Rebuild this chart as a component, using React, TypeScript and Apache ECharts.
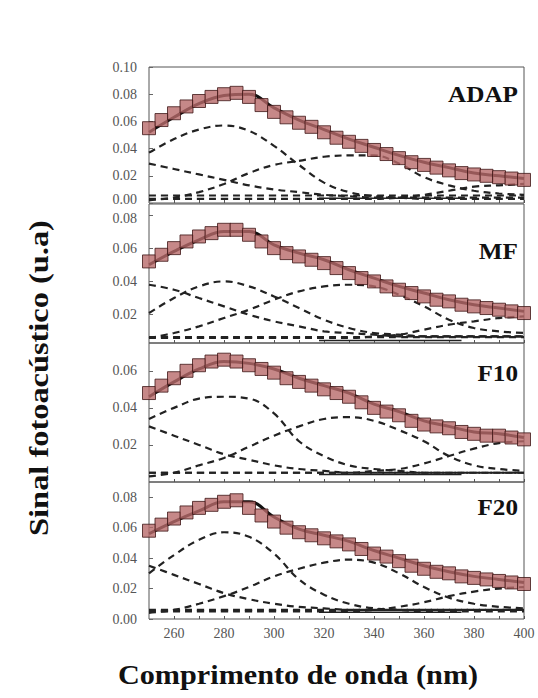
import React, { useEffect, useRef } from "react";
import * as echarts from "echarts";

// Wavelength grids (nm)
const wl5: number[] = [250,255,260,265,270,275,280,285,290,295,300,305,310,315,320,325,330,335,340,345,350,355,360,365,370,375,380,385,390,395,400];
const wl10: number[] = [250,260,270,280,290,300,310,320,330,340,350,360,370,380,390,400];
const xTickLabels: number[] = [260,280,300,320,340,360,380,400];
const xTickMarks: number[] = [260,270,280,290,300,310,320,330,340,350,360,370,380,390,400];

const panelNames: string[] = ["ADAP", "MF", "F10", "F20"];

// Measured photoacoustic signal (5 nm steps)
const adapData: number[] = [0.055,0.061,0.066,0.071,0.075,0.078,0.080,0.081,0.078,0.072,0.067,0.063,0.059,0.056,0.052,0.048,0.045,0.042,0.039,0.036,0.033,0.030,0.028,0.026,0.024,0.022,0.021,0.020,0.019,0.018,0.017];
const mfData: number[] = [0.052,0.056,0.060,0.064,0.067,0.069,0.071,0.071,0.068,0.064,0.060,0.057,0.055,0.053,0.051,0.048,0.045,0.042,0.040,0.037,0.035,0.033,0.031,0.029,0.028,0.026,0.025,0.024,0.023,0.022,0.021];
const f10Data: number[] = [0.048,0.052,0.056,0.060,0.063,0.065,0.066,0.065,0.063,0.061,0.059,0.056,0.054,0.052,0.050,0.048,0.046,0.043,0.040,0.038,0.036,0.033,0.031,0.030,0.029,0.027,0.026,0.025,0.025,0.024,0.023];
const f20Data: number[] = [0.058,0.062,0.066,0.070,0.073,0.075,0.077,0.078,0.073,0.068,0.064,0.060,0.057,0.055,0.053,0.051,0.049,0.046,0.043,0.041,0.038,0.035,0.033,0.031,0.030,0.028,0.027,0.026,0.025,0.024,0.023];

// Fitted envelope (10 nm steps)
const adapFit: number[] = [0.052,0.063,0.073,0.079,0.080,0.070,0.061,0.054,0.047,0.041,0.035,0.030,0.026,0.022,0.020,0.018];
const mfFit: number[] = [0.050,0.058,0.065,0.070,0.070,0.062,0.057,0.053,0.047,0.042,0.037,0.033,0.029,0.026,0.024,0.022];
const f10Fit: number[] = [0.046,0.054,0.061,0.065,0.064,0.061,0.056,0.052,0.048,0.042,0.038,0.033,0.030,0.027,0.026,0.024];
const f20Fit: number[] = [0.056,0.064,0.071,0.077,0.077,0.067,0.059,0.055,0.051,0.045,0.040,0.035,0.031,0.028,0.026,0.024];

// Gaussian bands of the fit (10 nm steps)
const adapBandA: number[] = [0.037,0.047,0.054,0.057,0.053,0.042,0.028,0.015,0.008,0.005,0.004,0.003,0.003,0.003,0.003,0.003];
const adapBandB: number[] = [0.029,0.025,0.021,0.017,0.013,0.010,0.008,0.006,0.005,0.004,0.004,0.004,0.004,0.004,0.004,0.004];
const adapBandC: number[] = [0.002,0.004,0.008,0.014,0.022,0.028,0.031,0.034,0.035,0.035,0.029,0.019,0.013,0.009,0.007,0.006];
const adapBandD: number[] = [0.003,0.003,0.003,0.003,0.003,0.003,0.003,0.003,0.003,0.003,0.004,0.006,0.009,0.012,0.013,0.014];
const adapBase: number[] = [0.0055,0.0055,0.0055,0.0055,0.0055,0.0055,0.0055,0.0055,0.0055,0.0055,0.0055,0.0055,0.0055,0.0055,0.0055,0.0055];

const mfBandA: number[] = [0.021,0.030,0.037,0.040,0.037,0.031,0.024,0.017,0.012,0.009,0.008,0.007,0.007,0.007,0.007,0.007];
const mfBandB: number[] = [0.038,0.035,0.030,0.025,0.020,0.016,0.013,0.010,0.009,0.008,0.007,0.007,0.007,0.007,0.007,0.007];
const mfBandC: number[] = [0.006,0.009,0.013,0.018,0.023,0.029,0.034,0.037,0.038,0.037,0.032,0.025,0.017,0.012,0.010,0.009];
const mfBandD: number[] = [0.006,0.006,0.006,0.006,0.006,0.006,0.006,0.006,0.006,0.007,0.008,0.011,0.014,0.016,0.018,0.019];
const mfBase: number[] = [0.0065,0.0065,0.0065,0.0065,0.0065,0.0065,0.0065,0.0065,0.0065,0.0065,0.0065,0.0065,0.0065,0.0065,0.0065,0.0065];

const f10BandA: number[] = [0.034,0.040,0.045,0.046,0.045,0.037,0.022,0.014,0.009,0.007,0.006,0.005,0.005,0.005,0.005,0.005];
const f10BandB: number[] = [0.030,0.025,0.020,0.015,0.012,0.009,0.007,0.006,0.005,0.005,0.005,0.005,0.005,0.005,0.005,0.005];
const f10BandC: number[] = [0.003,0.005,0.009,0.013,0.019,0.025,0.030,0.034,0.035,0.033,0.028,0.022,0.014,0.009,0.007,0.006];
const f10BandD: number[] = [0.005,0.005,0.005,0.005,0.005,0.005,0.005,0.005,0.005,0.006,0.007,0.010,0.014,0.018,0.021,0.022];
const f10Base: number[] = [0.005,0.005,0.005,0.005,0.005,0.005,0.005,0.005,0.005,0.005,0.005,0.005,0.005,0.005,0.005,0.005];

const f20BandA: number[] = [0.030,0.042,0.052,0.057,0.054,0.043,0.026,0.016,0.010,0.007,0.006,0.005,0.005,0.005,0.005,0.005];
const f20BandB: number[] = [0.035,0.029,0.023,0.017,0.013,0.010,0.008,0.007,0.006,0.006,0.006,0.006,0.006,0.006,0.006,0.006];
const f20BandC: number[] = [0.004,0.006,0.010,0.015,0.021,0.028,0.033,0.037,0.039,0.037,0.030,0.021,0.014,0.010,0.008,0.007];
const f20BandD: number[] = [0.005,0.005,0.005,0.005,0.005,0.005,0.005,0.005,0.005,0.006,0.008,0.011,0.015,0.018,0.020,0.021];
const f20Base: number[] = [0.006,0.006,0.006,0.006,0.006,0.006,0.006,0.006,0.006,0.006,0.006,0.006,0.006,0.006,0.006,0.006];

// Short solid baseline segments [start nm, end nm, value]
const baseSegments: number[][] = [[318,375,0.0035],[318,375,0.0045],[318,375,0.004],[318,375,0.0045]];

// Y-axis ranges and labelled ticks per panel
const yMins: number[] = [0, 0.003, 0, 0];
const yMaxs: number[] = [0.10, 0.0865, 0.075, 0.09];
const yLabels: number[][] = [
  [0, 0.02, 0.04, 0.06, 0.08, 0.10],
  [0.02, 0.04, 0.06, 0.08],
  [0.02, 0.04, 0.06],
  [0, 0.02, 0.04, 0.06, 0.08],
];

const allData = [adapData, mfData, f10Data, f20Data];
const allFit = [adapFit, mfFit, f10Fit, f20Fit];
const allBands = [
  [adapBandA, adapBandB, adapBandC, adapBandD, adapBase],
  [mfBandA, mfBandB, mfBandC, mfBandD, mfBase],
  [f10BandA, f10BandB, f10BandC, f10BandD, f10Base],
  [f20BandA, f20BandB, f20BandC, f20BandD, f20Base],
];

const gridTops = [67, 204, 343, 482];
const gridHeights = [136, 139, 139, 137];
const nameTops = [82, 239, 361, 495];
const serif = "'Liberation Serif', 'DejaVu Serif', serif";

export default function App() {
  const ref = useRef<HTMLDivElement>(null);

  useEffect(() => {
    if (!ref.current) return;
    const chart = echarts.init(ref.current, null, { renderer: "svg" });

    const grids = gridTops.map((top, i) => ({
      left: 149,
      width: 375,
      top,
      height: gridHeights[i],
      show: true,
      borderColor: "#555",
      borderWidth: 1,
      backgroundColor: "transparent",
    }));

    const xAxes = gridTops.map((_, i) => ({
      type: "value",
      gridIndex: i,
      min: 250,
      max: 400,
      axisLine: { show: false },
      splitLine: { show: false },
      axisTick: {
        show: true,
        inside: true,
        length: 3,
        lineStyle: { color: "#555" },
        customValues: xTickMarks,
      },
      axisLabel: {
        show: i === 3,
        customValues: xTickLabels,
        color: "#555",
        fontFamily: serif,
        fontSize: 14,
        margin: 7,
      },
    }));

    const labelFont = { color: "#555", fontFamily: serif, fontSize: 14 };

    // Where two stacked panels meet, the adjoining labels are nudged apart
    const yAxes = gridTops.map((_, i) => ({
      type: "value",
      gridIndex: i,
      min: yMins[i],
      max: yMaxs[i],
      axisLine: { show: false },
      splitLine: { show: false },
      axisTick: {
        show: true,
        inside: true,
        length: 4,
        lineStyle: { color: "#666" },
        customValues: yLabels[i],
      },
      axisLabel: {
        customValues: yLabels[i],
        formatter: (v: number) => {
          const t = v.toFixed(2);
          if (i === 0 && v === 0) return `{up|${t}}`;
          if (i === 1 && Math.abs(v - 0.08) < 1e-9) return `{down|${t}}`;
          return t;
        },
        ...labelFont,
        margin: 12,
        rich: {
          up: { ...labelFont, padding: [0, 0, 7, 0] },
          down: { ...labelFont, padding: [7, 0, 0, 0] },
        },
      },
    }));

    const series: any[] = [];
    for (let i = 0; i < 4; i++) {
      allBands[i].forEach((band) => {
        series.push({
          type: "line",
          xAxisIndex: i,
          yAxisIndex: i,
          data: wl10.map((x, k) => [x, band[k]]),
          smooth: 0.4,
          symbol: "none",
          z: 2,
          lineStyle: { color: "#222", width: 2.2, type: [7, 5] },
        });
      });
      const seg = baseSegments[i];
      series.push({
        type: "line",
        xAxisIndex: i,
        yAxisIndex: i,
        data: [[seg[0], seg[2]], [seg[1], seg[2]]],
        symbol: "none",
        z: 2,
        lineStyle: { color: "#222", width: 1.5 },
      });
      series.push({
        type: "line",
        xAxisIndex: i,
        yAxisIndex: i,
        data: wl10.map((x, k) => [x, allFit[i][k]]),
        smooth: 0.4,
        symbol: "none",
        z: 3,
        lineStyle: { color: "#111", width: 3 },
      });
      series.push({
        type: "scatter",
        xAxisIndex: i,
        yAxisIndex: i,
        data: wl5.map((x, k) => [x, allData[i][k]]),
        symbol: "rect",
        symbolSize: 13,
        z: 4,
        itemStyle: { color: "#b86a6a", borderColor: "#3e1616", borderWidth: 1 },
      });
    }

    const graphic: any[] = panelNames.map((name, i) => ({
      type: "text",
      x: 518,
      y: nameTops[i],
      scaleX: 1.05,
      style: {
        text: name,
        font: `bold 24px ${serif}`,
        fill: "#111",
        align: "right",
        verticalAlign: "top",
      },
    }));
    graphic.push({
      type: "text",
      x: 38,
      y: 378,
      rotation: Math.PI / 2,
      scaleX: 1.2,
      style: {
        text: "Sinal fotoacústico (u.a)",
        font: `bold 27px ${serif}`,
        fill: "#111",
        align: "center",
        verticalAlign: "middle",
      },
    });
    graphic.push({
      type: "text",
      x: 298,
      y: 675,
      scaleX: 1.12,
      style: {
        text: "Comprimento de onda (nm)",
        font: `bold 27px ${serif}`,
        fill: "#111",
        align: "center",
        verticalAlign: "middle",
      },
    });

    chart.setOption({
      animation: false,
      backgroundColor: "#fff",
      grid: grids,
      xAxis: xAxes,
      yAxis: yAxes,
      series,
      graphic,
    });

    return () => chart.dispose();
  }, []);

  return (
    <div
      ref={ref}
      style={{ position: "fixed", left: 0, top: 0, width: 538, height: 698 }}
    />
  );
}
